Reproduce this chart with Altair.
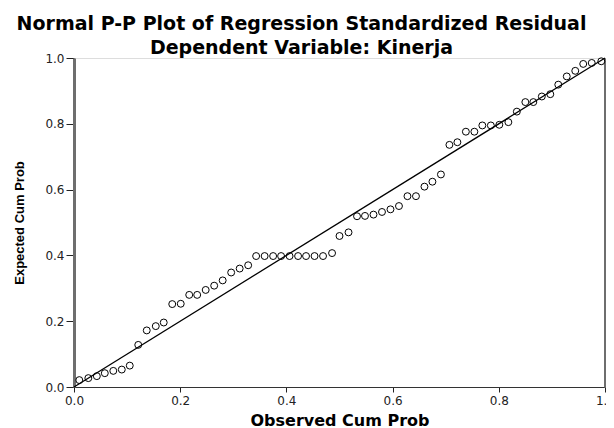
import altair as alt
import pandas as pd

observed = [0.010, 0.027, 0.043, 0.058, 0.074, 0.090, 0.105, 0.121, 0.137, 0.154,
            0.169, 0.185, 0.201, 0.217, 0.232, 0.248, 0.264, 0.280, 0.296, 0.312,
            0.328, 0.343, 0.359, 0.375, 0.390, 0.406, 0.422, 0.437, 0.453, 0.469,
            0.486, 0.500, 0.517, 0.533, 0.548, 0.564, 0.580, 0.596, 0.612, 0.628,
            0.644, 0.660, 0.675, 0.691, 0.707, 0.722, 0.738, 0.754, 0.769, 0.785,
            0.801, 0.818, 0.834, 0.850, 0.865, 0.881, 0.897, 0.912, 0.928, 0.944,
            0.959, 0.975, 0.993]
expected = [0.021, 0.027, 0.033, 0.042, 0.049, 0.053, 0.065, 0.128, 0.172, 0.185,
            0.196, 0.252, 0.253, 0.280, 0.280, 0.295, 0.308, 0.324, 0.348, 0.360,
            0.370, 0.398, 0.398, 0.398, 0.398, 0.398, 0.398, 0.398, 0.398, 0.398,
            0.407, 0.459, 0.470, 0.519, 0.520, 0.524, 0.532, 0.540, 0.550, 0.580,
            0.580, 0.609, 0.624, 0.646, 0.736, 0.744, 0.776, 0.776, 0.795, 0.795,
            0.797, 0.805, 0.837, 0.866, 0.866, 0.883, 0.890, 0.919, 0.944, 0.961,
            0.982, 0.985, 0.990]
diag = [0.0, 1.0]
tick_values = [0.0, 0.2, 0.4, 0.6, 0.8, 1.0]

pts = pd.DataFrame({"obs": observed, "exp": expected})
ref = pd.DataFrame({"obs": diag, "exp": diag})

xscale = alt.Scale(domain=[0, 1], nice=False, zero=False)
yscale = alt.Scale(domain=[0, 1], nice=False, zero=False)

xaxis = alt.Axis(values=tick_values, format=".1f", title="Observed Cum Prob",
                 grid=False, domainColor="#333333", domainWidth=1, labelFlush=False,
                 tickColor="#222222", tickSize=5, labelFont="DejaVu Sans",
                 labelFontSize=12, labelColor="#222222", labelPadding=3,
                 titleFont="DejaVu Sans", titleFontSize=16, titleFontWeight="bold",
                 titleColor="#000000", titlePadding=6)
yaxis = alt.Axis(values=tick_values, format=".1f", title="Expected Cum Prob",
                 grid=False, domainColor="#6e6e6e", domainWidth=3, labelFlush=False,
                 tickColor="#222222", tickSize=8, labelFont="DejaVu Sans",
                 labelFontSize=12, labelColor="#222222", labelPadding=2,
                 titleFont="Liberation Sans", titleFontSize=13, titleFontWeight="bold",
                 titleColor="#000000", titlePadding=18)
yaxis_right = alt.Axis(orient="right", title=None, labels=False, ticks=False,
                       grid=False, domainColor="#6e6e6e", domainWidth=3)

points = alt.Chart(pts).mark_point(shape="circle", filled=False, color="#000000",
                                   strokeWidth=1, size=48, opacity=1).encode(
    x=alt.X("obs:Q", scale=xscale, axis=xaxis),
    y=alt.Y("exp:Q", scale=yscale, axis=yaxis),
)

line = alt.Chart(ref).mark_line(color="#000000", strokeWidth=1.3).encode(
    x=alt.X("obs:Q", scale=xscale, axis=xaxis),
    y=alt.Y("exp:Q", scale=yscale, axis=yaxis_right),
)

chart = alt.layer(points, line).resolve_axis(y="independent").properties(
    width=531,
    height=329,
    title=alt.TitleParams(
        text="Normal P-P Plot of Regression Standardized Residual",
        subtitle="Dependent Variable: Kinerja",
        font="DejaVu Sans", fontSize=19, fontWeight="bold", color="#000000",
        subtitleFont="DejaVu Sans", subtitleFontSize=19, subtitleFontWeight="bold",
        subtitleColor="#000000", subtitlePadding=5,
        anchor="middle", frame="group", dx=-38, offset=-6,
    ),
    padding={"left": 66, "top": 50, "right": 1, "bottom": 41},
    autosize=alt.AutoSizeParams(type="none"),
).configure_view(
    fill="#f0f0f0", stroke="#333333", strokeWidth=1
).configure(background="#ffffff")

chart.save("out.html", embed_options={"renderer": "svg", "actions": False})
